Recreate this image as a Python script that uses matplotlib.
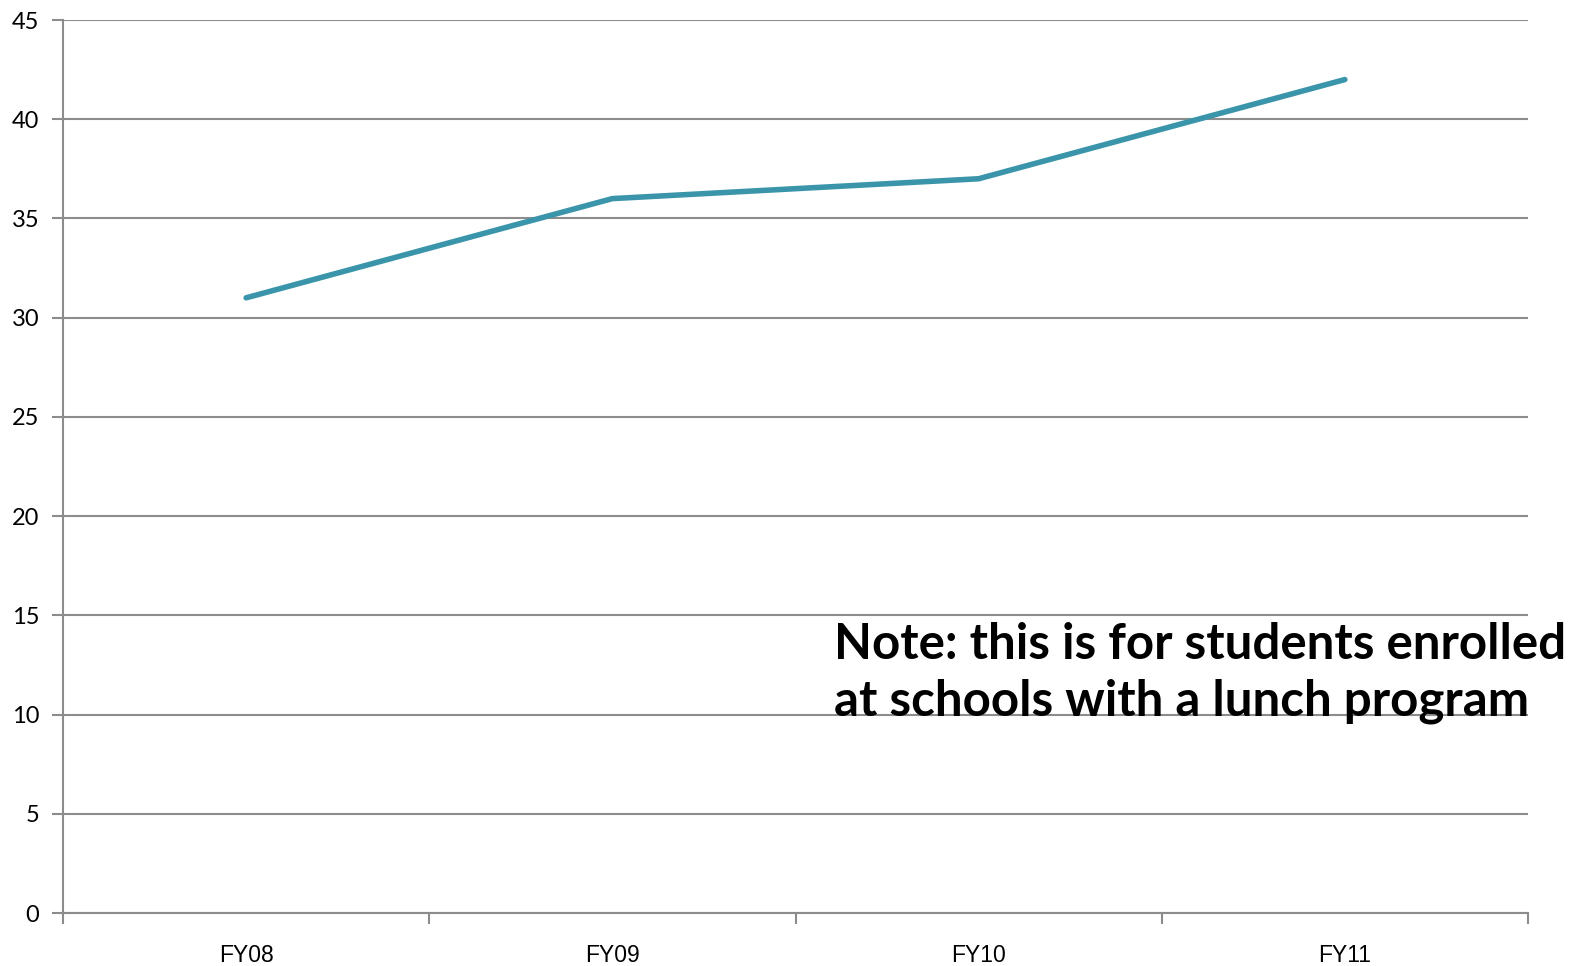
import numpy as np
import matplotlib.pyplot as plt

# data
categories = ["FY08", "FY09", "FY10", "FY11"]
values = [31, 36, 37, 42]
y_ticks = [0, 5, 10, 15, 20, 25, 30, 35, 40, 45]
note = "Note: this is for students enrolled\nat schools with a lunch program"

grid_clr = "#8c8c8c"
line_clr = "#3a95aa"

fig = plt.figure(figsize=(15.83, 9.66), dpi=100)
ax = fig.add_axes([63/1583, 1 - 913/966, (1528 - 63)/1583, (913 - 20)/966])

x = np.arange(len(categories))
ax.plot(x, values, color=line_clr, linewidth=4, solid_capstyle="round")

ax.set_xlim(-0.5, len(categories) - 0.5)
ax.set_ylim(0, 45)

# horizontal gridlines
ax.set_yticks(y_ticks)
ax.yaxis.grid(True, color=grid_clr, linewidth=1.5)
ax.set_axisbelow(True)

# category boundaries get the tick marks, labels sit in between
ax.set_xticks(np.arange(-0.5, len(categories)), minor=False)
ax.set_xticklabels([""] * (len(categories) + 1))
ax.set_xticks(x, minor=True)
ax.set_xticklabels(categories, minor=True, family="Liberation Sans")
ax.tick_params(axis="x", which="major", length=8, width=1.5, color=grid_clr)
ax.tick_params(axis="x", which="minor", length=0, pad=22, labelsize=16.5)
ax.tick_params(axis="y", length=8, width=1.5, color=grid_clr, labelsize=17, pad=9)
for lbl in ax.get_yticklabels():
    lbl.set_family("Lato")

for s in ["top", "right"]:
    ax.spines[s].set_visible(False)
for s in ["left", "bottom"]:
    ax.spines[s].set_color(grid_clr)
    ax.spines[s].set_linewidth(1.5)

ax.text(834/1583, 1 - 622/966, note, transform=fig.transFigure,
        fontsize=35.5, fontweight="bold", family="Lato", va="top", ha="left",
        linespacing=1.32, color="black")

fig.savefig("out.png", dpi=100)
